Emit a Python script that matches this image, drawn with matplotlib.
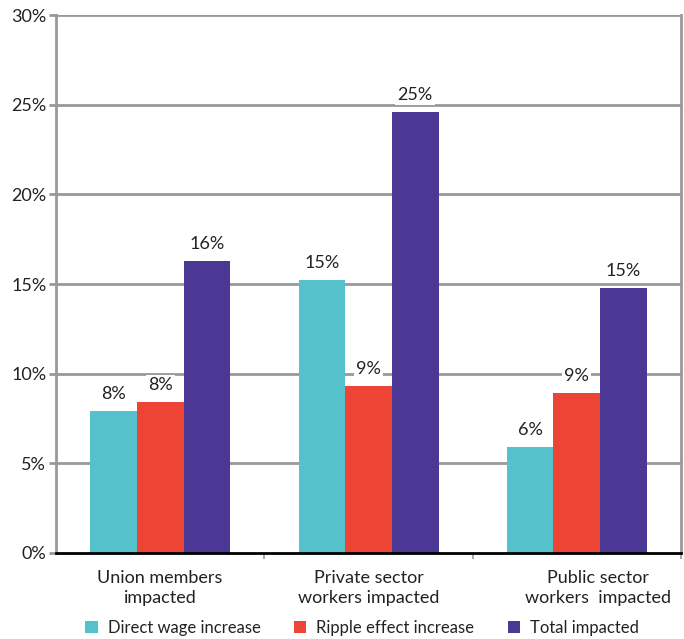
import matplotlib
matplotlib.use("Agg")
import matplotlib.pyplot as plt
import numpy as np

plt.rcParams['font.family'] = ['Lato', 'DejaVu Sans']

categories = ["Union members\nimpacted", "Private sector\nworkers impacted", "Public sector\nworkers  impacted"]
series_names = ["Direct wage increase", "Ripple effect increase", "Total impacted"]
direct = [7.9, 15.2, 5.9]
ripple = [8.4, 9.3, 8.9]
total = [16.3, 24.6, 14.8]
y_ticks = [0, 5, 10, 15, 20, 25, 30]
colors = ["#55C1CA", "#EE4436", "#4B3894"]

fig = plt.figure(figsize=(6.84, 6.39), dpi=100)
ax = fig.add_axes([0.0819, 0.1346, 0.9137, 0.8419])

x = np.arange(len(categories))
w = 0.224
grid_c = "#999999"

for yt in y_ticks[1:]:
    ax.axhline(yt, color=grid_c, lw=2, zorder=1)

handles = []
for i, (vals, col) in enumerate(zip([direct, ripple, total], colors)):
    pos = x + (i - 1) * w
    b = ax.bar(pos, vals, width=w, color=col, zorder=2, label=series_names[i])
    handles.append(b)
    for px, v in zip(pos, vals):
        ax.text(px, v + 0.5, f"{round(v)}%", ha="center", va="bottom", fontsize=13,
                color="#222222", zorder=3,
                bbox=dict(facecolor="white", edgecolor="none", pad=1.5))

ax.set_xlim(-0.5, 2.5)
ax.set_ylim(0, 30)
ax.set_yticks(y_ticks)
ax.set_yticklabels([f"{t}%" for t in y_ticks], fontsize=13, color="#222222")
ax.tick_params(axis="y", length=5, width=2, color=grid_c, pad=2)

ax.set_xticks([0.5, 1.5, 2.5])
ax.set_xticklabels([])
ax.tick_params(axis="x", length=4, width=1.2, color=grid_c)
offsets = [0, 0, 0.1]
for xi, lab, off in zip(x, categories, offsets):
    ax.text(xi + off, -0.95, lab, ha="center", va="top", fontsize=13, color="#222222",
            linespacing=1.3)

ax.spines["left"].set_color(grid_c)
ax.spines["left"].set_linewidth(2)
ax.spines["right"].set_color(grid_c)
ax.spines["right"].set_linewidth(2)
ax.spines["top"].set_visible(False)
ax.spines["bottom"].set_color("black")
ax.spines["bottom"].set_linewidth(2)
ax.spines["bottom"].set_zorder(4)

fig.legend(handles=handles, labels=series_names, loc="center left",
           bbox_to_anchor=(85 / 684, 0.017), ncol=3, frameon=False, fontsize=12,
           borderpad=0, borderaxespad=0,
           handlelength=0.75, handleheight=0.75, handletextpad=0.6,
           columnspacing=2.0, labelcolor="#222222")

fig.savefig("out.png", dpi=100)
